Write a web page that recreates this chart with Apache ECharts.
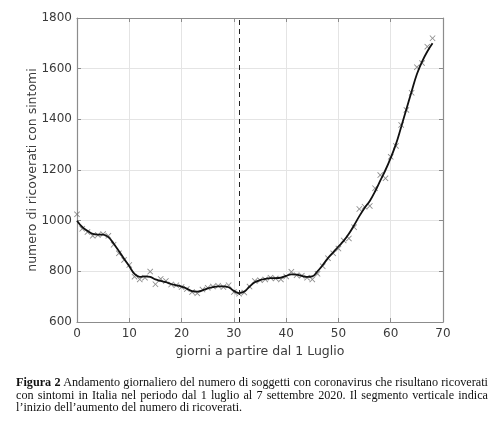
<!DOCTYPE html>
<html>
<head>
<meta charset="utf-8">
<script src="https://cdn.jsdelivr.net/npm/echarts@6/dist/echarts.min.js"></script>
<style>
html,body{margin:0;padding:0;background:#fff;}
#chart{position:absolute;left:0;top:0;width:500px;height:426px;}
#caption{position:absolute;left:16px;top:376px;width:472px;font-family:"Liberation Serif",serif;font-size:12.2px;line-height:12.6px;color:#111;text-align:justify;text-align-last:left;}
</style>
</head>
<body>
<div id="chart"></div>
<div id="caption"><b>Figura 2</b> Andamento giornaliero del numero di soggetti con coronavirus che risultano ricoverati con sintomi in Italia nel periodo dal 1 luglio al 7 settembre 2020. Il segmento verticale indica l’inizio dell’aumento del numero di ricoverati.</div>
<script>
// days since 1 July
const days = [0,1,2,3,4,5,6,7,8,9,10,11,12,13,14,15,16,17,18,19,20,21,22,23,24,25,26,27,28,29,30,31,32,33,34,35,36,37,38,39,40,41,42,43,44,45,46,47,48,49,50,51,52,53,54,55,56,57,58,59,60,61,62,63,64,65,66,67,68];
// observed daily values (x markers)
const observed = [1025,968,955,940,943,947,940,905,871,845,825,779,768,775,799,749,770,762,748,745,738,730,718,713,728,735,740,743,738,745,718,712,716,740,762,765,768,775,772,768,780,798,785,783,775,768,790,820,852,871,890,922,930,974,1046,1055,1058,1128,1180,1167,1252,1295,1378,1437,1505,1606,1622,1687,1720];
// smoothed curve
const smoothed = [1000,975,960,948,945,945,935,910,880,850,820,790,778,780,778,768,762,757,750,745,740,732,722,720,725,733,738,741,741,737,723,714,720,740,757,765,770,773,773,775,782,788,787,782,778,780,800,825,852,875,898,920,948,982,1018,1050,1078,1115,1158,1200,1248,1302,1370,1440,1510,1578,1628,1668,1700];
const changeDay = 31;
const xTicks = {min:0,max:70,interval:10};
const yTicks = {min:600,max:1800,interval:200};

const chart = echarts.init(document.getElementById('chart'), null, {renderer:'canvas'});
const font = 'DejaVu Sans';
const axisCol = '#8c8c8c';
const xMark = 'path://M0,1L1,0L5,4L9,0L10,1L6,5L10,9L9,10L5,6L1,10L0,9L4,5Z';
const baseAxis = {
  axisLine:{show:true,onZero:false,lineStyle:{color:axisCol,width:1.2}},
  axisTick:{show:true,inside:true,length:4,lineStyle:{color:axisCol}},
};
chart.setOption({
  animation:false,
  backgroundColor:'#fff',
  grid:{left:77,right:57,top:18,bottom:104,containLabel:false},
  xAxis:[
    Object.assign({type:'value',min:xTicks.min,max:xTicks.max,interval:xTicks.interval,position:'bottom',
      name:'giorni a partire dal 1 Luglio',nameLocation:'middle',nameGap:21,
      nameTextStyle:{fontFamily:font,fontSize:12.5,color:'#3a3a3a'},
      axisLabel:{fontFamily:font,fontSize:12,color:'#3a3a3a',margin:6},
      splitLine:{show:true,lineStyle:{color:'#e4e4e4',width:1}}},baseAxis),
    Object.assign({type:'value',min:xTicks.min,max:xTicks.max,interval:xTicks.interval,position:'top',
      axisLabel:{show:false},splitLine:{show:false}},baseAxis)
  ],
  yAxis:[
    Object.assign({type:'value',min:yTicks.min,max:yTicks.max,interval:yTicks.interval,position:'left',
      name:'numero di ricoverati con sintomi',nameLocation:'middle',nameGap:38,nameMoveOverlap:false,
      nameTextStyle:{fontFamily:font,fontSize:12.5,color:'#3a3a3a'},
      axisLabel:{fontFamily:font,fontSize:12,color:'#3a3a3a',margin:5,formatter:v=>String(v)},
      splitLine:{show:true,lineStyle:{color:'#e4e4e4',width:1}}},baseAxis),
    Object.assign({type:'value',min:yTicks.min,max:yTicks.max,interval:yTicks.interval,position:'right',
      axisLabel:{show:false},splitLine:{show:false}},baseAxis)
  ],
  series:[
    {type:'line',data:days.map((d,i)=>[d,smoothed[i]]),smooth:0.4,showSymbol:false,
      lineStyle:{color:'#111',width:1.8},z:3,
      markLine:{silent:true,symbol:'none',label:{show:false},
        lineStyle:{color:'#222',type:[5,4],width:1},data:[{xAxis:changeDay}]}},
    {type:'scatter',data:days.map((d,i)=>[d,observed[i]]),symbol:xMark,symbolSize:6,
      itemStyle:{color:'#6e6e6e'},z:2}
  ]
});
</script>
</body>
</html>
